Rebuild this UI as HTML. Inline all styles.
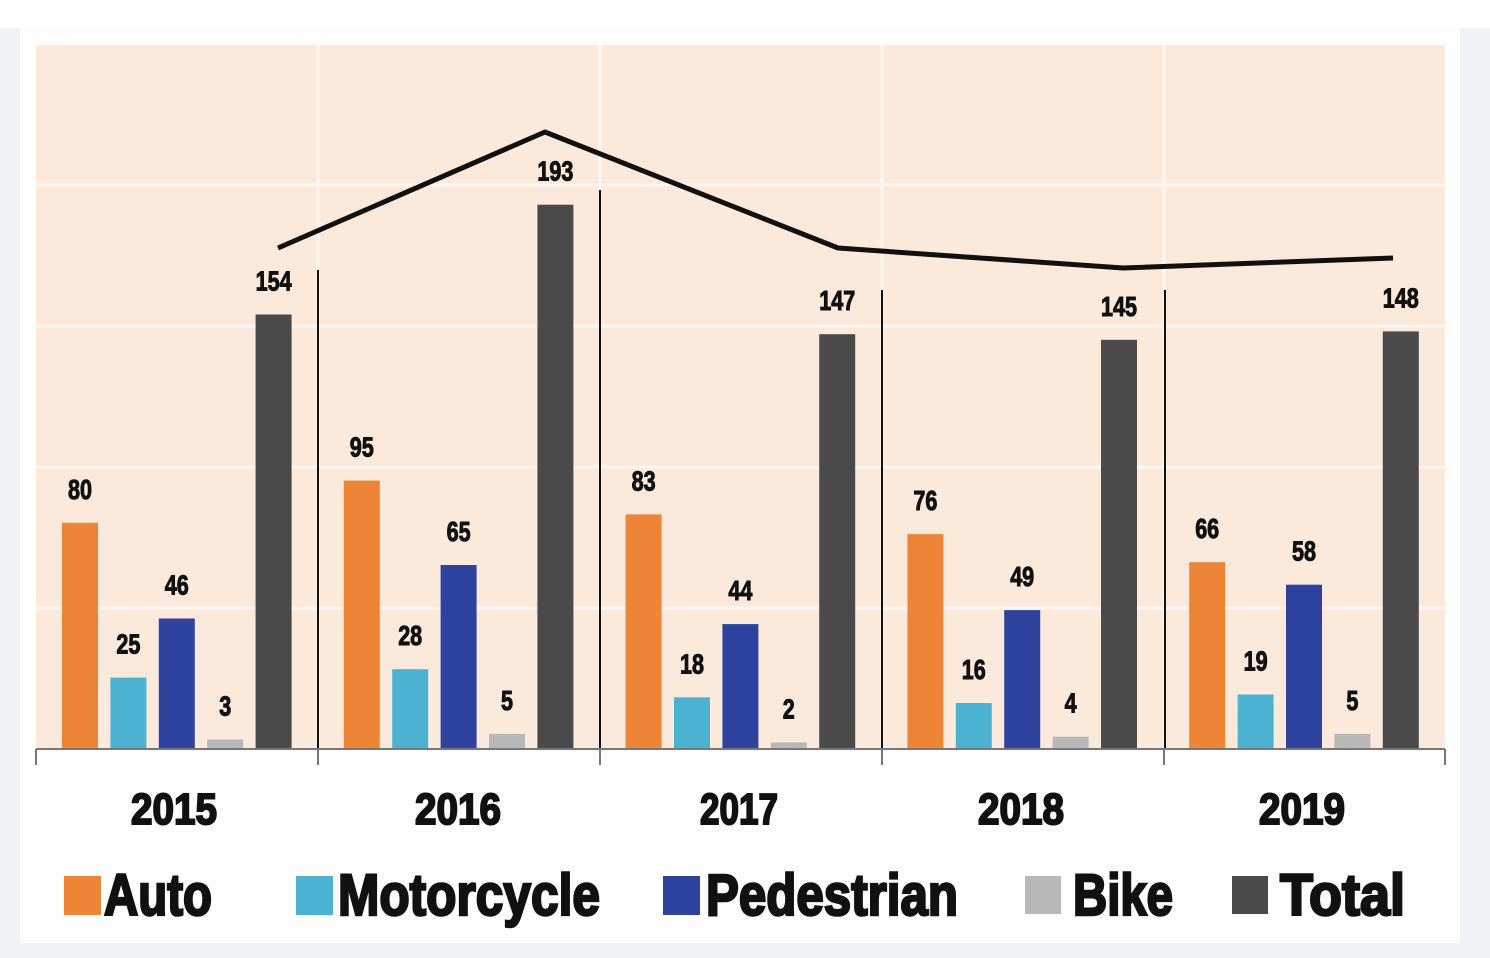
<!DOCTYPE html>
<html><head><meta charset="utf-8"><style>
html,body{margin:0;padding:0;background:#f4f5f7;}
svg{display:block}
text{font-family:"Liberation Sans Narrow","Liberation Sans",sans-serif;font-weight:bold;fill:#111;stroke:#111}
</style></head><body>
<svg width="1490" height="958" viewBox="0 0 1490 958">
<rect x="0" y="0" width="1490" height="958" fill="#f1f2f5"/>
<rect x="0" y="0" width="1490" height="28" fill="#ffffff"/>
<rect x="20" y="28" width="1440" height="915" fill="#fdfdfd"/>
<rect x="36" y="45" width="1409" height="703" fill="#fbe9dc"/>
<g stroke="#fff6ef" stroke-width="3">
<line x1="36" y1="185" x2="1445" y2="185"/><line x1="36" y1="326" x2="1445" y2="326"/>
<line x1="36" y1="467" x2="1445" y2="467"/><line x1="36" y1="608" x2="1445" y2="608"/>
<line x1="318" y1="45" x2="318" y2="748"/><line x1="600" y1="45" x2="600" y2="748"/>
<line x1="882" y1="45" x2="882" y2="748"/><line x1="1164" y1="45" x2="1164" y2="748"/>
</g>
<g stroke="#111" stroke-width="2">
<line x1="318" y1="270" x2="318" y2="748"/><line x1="600" y1="190" x2="600" y2="748"/>
<line x1="882" y1="290" x2="882" y2="748"/><line x1="1165" y1="290" x2="1165" y2="748"/>
</g>
<g stroke="#777" stroke-width="2" fill="none">
<line x1="36" y1="749" x2="1445" y2="749"/>
<line x1="36" y1="749" x2="36" y2="765"/><line x1="318" y1="749" x2="318" y2="765"/>
<line x1="600" y1="749" x2="600" y2="765"/><line x1="882" y1="749" x2="882" y2="765"/>
<line x1="1164" y1="749" x2="1164" y2="765"/><line x1="1445" y1="749" x2="1445" y2="765"/>
</g>
<g id="bars"></g>
<polyline points="278,248 545,132 838,248 1123,268 1393,258" fill="none" stroke="#111" stroke-width="5" stroke-linejoin="round"/>
<g font-size="44" text-anchor="middle" stroke-width="2">
<text x="174" y="824" textLength="86" lengthAdjust="spacingAndGlyphs">2015</text>
<text x="458" y="824" textLength="86" lengthAdjust="spacingAndGlyphs">2016</text>
<text x="739" y="824" textLength="78" lengthAdjust="spacingAndGlyphs">2017</text>
<text x="1021" y="824" textLength="86" lengthAdjust="spacingAndGlyphs">2018</text>
<text x="1302" y="824" textLength="86" lengthAdjust="spacingAndGlyphs">2019</text>
</g>
<g font-size="58" stroke-width="2.5">
<rect x="64" y="876" width="37" height="39" fill="#ee8536" stroke="none"/><text x="104" y="915" textLength="108" lengthAdjust="spacingAndGlyphs">Auto</text>
<rect x="296" y="876" width="37" height="39" fill="#4bb3d1" stroke="none"/><text x="338" y="915" textLength="262" lengthAdjust="spacingAndGlyphs">Motorcycle</text>
<rect x="663" y="876" width="37" height="39" fill="#2e43a0" stroke="none"/><text x="706" y="915" textLength="252" lengthAdjust="spacingAndGlyphs">Pedestrian</text>
<rect x="1025" y="876" width="36" height="38" fill="#b8b8b8" stroke="none"/><text x="1073" y="915" textLength="100" lengthAdjust="spacingAndGlyphs">Bike</text>
<rect x="1232" y="876" width="36" height="38" fill="#4a4a4a" stroke="none"/><text x="1280" y="915" textLength="125" lengthAdjust="spacingAndGlyphs">Total</text>
</g>
</svg>
<script>
var d=[[80,25,46,3,154],[95,28,65,5,193],[83,18,44,2,147],[76,16,49,4,145],[66,19,58,5,148]];
var c=["#ee8536","#4bb3d1","#2e43a0","#b8b8b8","#4a4a4a"];
var g=document.getElementById("bars"),s="",k=2.815;
for(var i=0;i<5;i++)for(var j=0;j<5;j++){
var x=36+i*281.8+26+j*48.4,h=d[i][j]*k,y=748-h;if(h<5){h=6;y=742}
s+='<rect x="'+x.toFixed(1)+'" y="'+y.toFixed(1)+'" width="36" height="'+h.toFixed(1)+'" fill="'+c[j]+'"/>';
var v=String(d[i][j]);
s+='<text x="'+(x+18).toFixed(1)+'" y="'+(y-24).toFixed(1)+'" font-size="28" stroke-width="1" text-anchor="middle" textLength="'+(v.length*12)+'" lengthAdjust="spacingAndGlyphs">'+v+'</text>';}
g.innerHTML=s;
</script>
</body></html>
